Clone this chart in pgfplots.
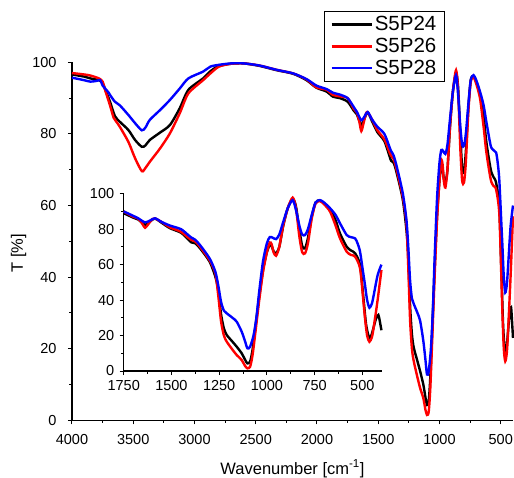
\documentclass[border=0pt]{standalone}
\usepackage{fontspec}
\setmainfont{Liberation Sans}
\usepackage{pgfplots}
\usepackage{pgfplotstable}
\pgfplotsset{compat=1.18}

\pgfplotstableread{
x y
4000 96.6
3900 96.0
3850 95.5
3780 95.0
3750 94.2
3730 92.5
3690 89.0
3650 85.0
3610 83.4
3540 81.1
3485 78.3
3430 76.4
3400 76.8
3365 78.3
3280 80.4
3200 82.5
3120 87.2
3050 92.3
2930 95.5
2870 97.5
2800 99.0
2700 99.6
2600 99.7
2470 99.0
2330 97.8
2195 96.8
2085 95.0
2005 92.9
1920 91.8
1870 90.4
1815 90.0
1750 89.0
1700 86.5
1675 85.5
1638 82.5
1610 84.5
1586 86.0
1550 83.5
1507 80.5
1450 78.0
1410 74.0
1395 72.5
1375 72.0
1350 69.2
1300 61.7
1270 53.2
1255 45.7
1240 32
1225 24
1210 20.3
1180 16.5
1158 13.7
1132 10.0
1115 6.5
1102 4.3
1088 5.3
1075 12
1060 25
1040 42
1020 57
1000 67
985 71
975 70.5
965 67.5
952 66.4
935 70
914 82
890 92
865 97.0
848 93
830 80
815 70.5
800 69.2
785 75
765 87
745 95
722 96.2
700 94.5
669 91.0
640 85.0
617 77.6
582 70.1
560 68
538 66.4
512 59.8
495 42
480 26
463 18.4
450 21
430 29
416 31.6
405 26
400 23
}\blackdata

\pgfplotstableread{
x y
4000 97.0
3900 96.6
3850 96.3
3780 95.5
3750 94.6
3730 92.3
3690 88.0
3660 84.5
3640 83.5
3610 82.0
3540 77.8
3485 73.2
3430 69.6
3400 70.5
3365 72.2
3280 76.0
3200 80.2
3120 85.8
3050 91.3
2930 95.0
2870 96.9
2800 98.8
2700 99.6
2600 99.7
2470 99.1
2330 97.9
2195 96.9
2085 95.2
2005 93.0
1920 92.3
1870 90.9
1815 90.5
1750 90.0
1700 87.0
1675 86.0
1655 83.5
1638 80.8
1620 83.0
1600 85.7
1586 86.0
1550 84
1507 81.0
1450 78.5
1410 75
1395 73.9
1375 73.0
1350 70.0
1300 62.5
1270 55.0
1255 42.9
1240 28
1225 20
1210 16.5
1180 12.0
1158 9.0
1132 6.2
1115 3.0
1102 1.5
1088 2.4
1075 9
1060 22
1040 40
1020 56
1000 67
985 72.5
975 71.5
965 67
952 65.0
935 70
914 82.3
890 92
865 97.8
848 92
830 76
815 67
800 66.4
785 72
765 86
745 94.5
722 95.8
700 94.0
669 89.9
640 82.0
617 74.8
582 67.3
560 65.5
538 64.5
512 57.9
495 40
486 29.7
475 20
463 16.5
450 19
440 25
420 40
400 57
}\reddata

\pgfplotstableread{
x y
4000 95.7
3900 95.0
3850 94.6
3800 94.8
3770 95.0
3750 93.5
3730 92.7
3700 91.5
3690 90.9
3650 89.0
3610 88.0
3540 85.3
3485 83.0
3430 81.0
3400 81.8
3365 83.9
3280 86.7
3200 89.5
3120 92.7
3050 95.5
2930 97.4
2870 98.8
2800 99.3
2700 99.7
2600 99.7
2470 99.1
2330 97.9
2195 96.9
2085 95.3
2005 93.5
1920 92.5
1870 91.5
1815 91.0
1750 90.0
1700 87.5
1675 86.2
1638 83.8
1610 85.0
1586 86.1
1550 84
1507 82.0
1450 80.0
1410 76.5
1395 75.2
1375 74
1350 71.0
1300 63.5
1270 56.0
1255 48.5
1240 39
1225 34
1210 32.5
1180 30
1158 27.8
1132 22.2
1115 17.0
1102 12.8
1088 13.7
1070 20
1055 30
1040 45
1020 62
1000 72
985 75.5
970 75.2
952 74.4
935 77
914 84.2
890 92
865 96.4
848 91
830 82
815 77
800 76.7
785 80
765 88
745 95
722 96.4
700 95.0
669 91.8
640 88.0
617 83.3
582 76.7
560 75.5
538 74.8
525 72
512 67.3
495 55
486 48.5
475 40
463 35.7
450 38
440 43
420 54
400 60
}\bluedata

\pgfplotsset{
  ftir/.style={
    scale only axis,
    x dir=reverse,
    axis x line*=bottom,
    axis y line*=left,
    axis line style={-, line width=1.1pt},
    tick align=outside,
    major tick length=4pt,
    minor tick length=2.5pt,
    every tick/.style={black, line width=1pt},
    minor x tick num=1,
    minor y tick num=1,
    ymin=0, ymax=100,
    ytick={0,20,...,100},
    /pgf/number format/assume math mode=true,
    /pgf/number format/set thousands separator={},
    tick label style={font=\fontsize{14.5}{17}\selectfont},
    clip=false,
  },
  spec/.style={line width=2.4pt, smooth, tension=0.45},
}

\begin{document}
\begin{tikzpicture}
\useasboundingbox (-72pt,-56.7pt) rectangle (442pt,420.3pt);
\begin{axis}[ftir,
  at={(0pt,0pt)}, anchor=south west,
  width=441pt, height=358pt,
  xmin=400, xmax=4000,
  xtick={4000,3500,...,500},
  xticklabel style={yshift=-7pt},
  yticklabel={\pgfmathprintnumber{\tick}\hspace*{8pt}},
  xlabel={Wavenumber [cm\textsuperscript{-1}]},
  ylabel={T [\%]},
  label style={font=\fontsize{16.5}{19}\selectfont},
  xlabel style={at={(axis description cs:0.5,0)}, anchor=base, yshift=-53.7pt},
  ylabel style={at={(axis description cs:-0.1213,0.467)}, anchor=center},
  legend style={at={(axis description cs:0.571,1.143)}, anchor=north west,
    draw=black, line width=0.8pt, fill=white,
    font=\fontsize{20.5}{23}\selectfont,
    nodes={font=\fontsize{20.5}{23}\selectfont},
    inner xsep=6pt, inner ysep=3pt, row sep=2pt},
  legend cell align=left,
  legend image code/.code={\draw[#1, line width=2.6pt] (0pt,0pt) -- (40pt,0pt);},
]
\addplot[spec, black] table {\blackdata};
\addlegendentry{S5P24}
\addplot[spec, red] table {\reddata};
\addlegendentry{S5P26}
\addplot[spec, blue] table {\bluedata};
\addlegendentry{S5P28}
\end{axis}
\begin{axis}[ftir,
  at={(51.7pt,49.3pt)}, anchor=south west,
  width=258.3pt, height=177.3pt,
  xmin=397, xmax=1750,
  xtick={1750,1500,...,500},
  xticklabel style={yshift=-2pt},
  yticklabel={\pgfmathprintnumber{\tick}\hspace*{2pt}},
]
\addplot[spec, black, restrict x to domain=397:1750] table {\blackdata};
\addplot[spec, red, restrict x to domain=397:1750] table {\reddata};
\addplot[spec, blue, restrict x to domain=397:1750] table {\bluedata};
\end{axis}
\end{tikzpicture}
\end{document}
